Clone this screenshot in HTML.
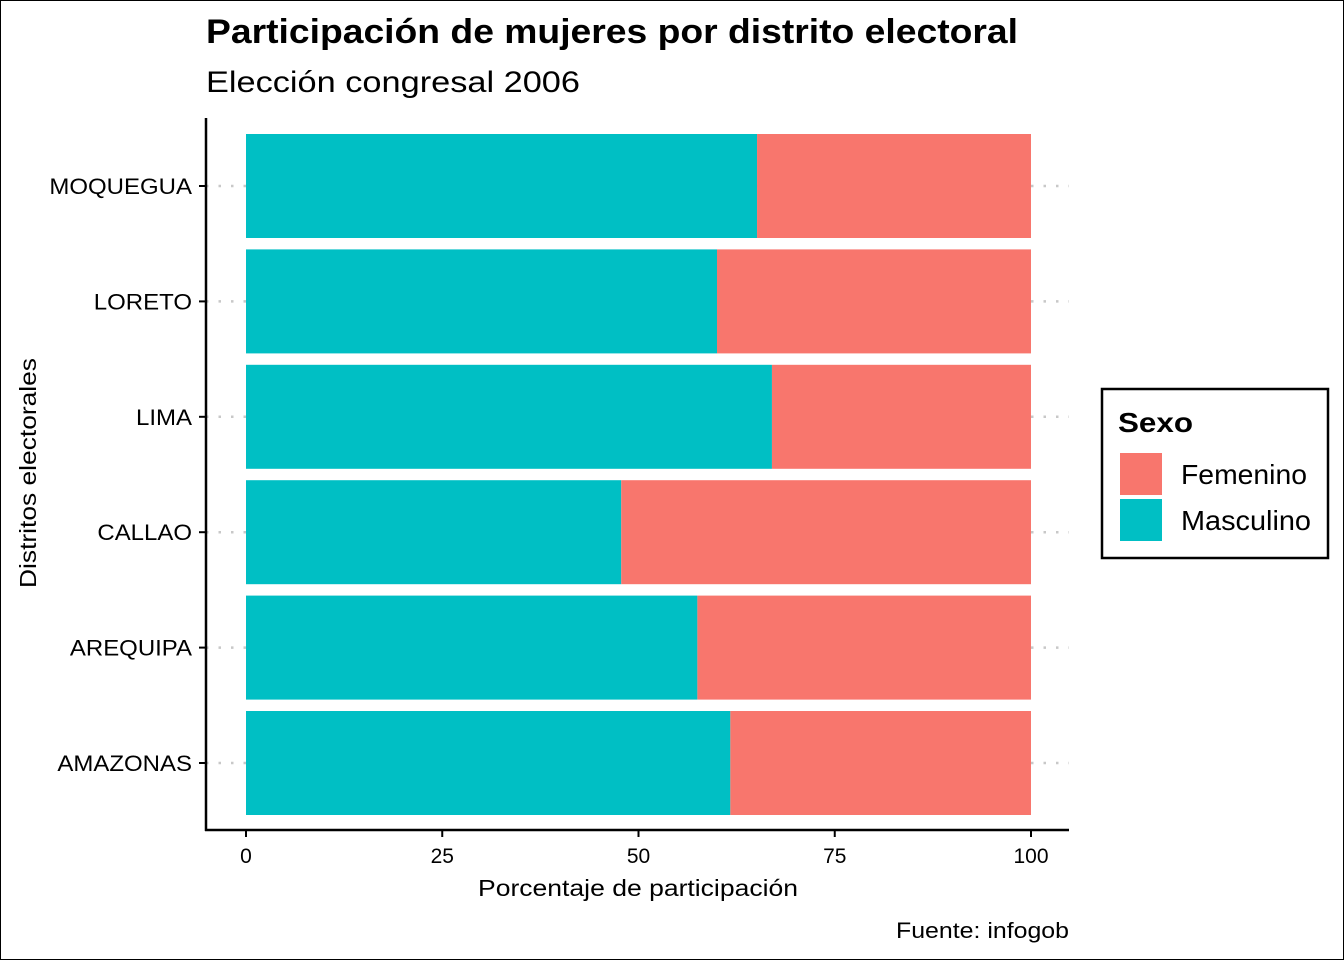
<!DOCTYPE html>
<html><head><meta charset="utf-8"><style>
body{margin:0;background:#fff}
svg{display:block;font-family:"Liberation Sans",sans-serif}
</style></head><body>
<svg width="1344" height="960" viewBox="0 0 1344 960">
<rect x="0.5" y="0.5" width="1343" height="959" fill="#fff" stroke="#000"/>
<text x="206" y="43" font-size="34" font-weight="bold" textLength="812" lengthAdjust="spacingAndGlyphs">Participación de mujeres por distrito electoral</text>
<text x="206" y="92" font-size="30" textLength="374" lengthAdjust="spacingAndGlyphs">Elección congresal 2006</text>
<g id="plot"></g>
<text x="478" y="896" font-size="23" textLength="320" lengthAdjust="spacingAndGlyphs">Porcentaje de participación</text>
<text transform="translate(36,588) rotate(-90)" font-size="23" textLength="230" lengthAdjust="spacingAndGlyphs">Distritos electorales</text>
<text x="896" y="938" font-size="22" textLength="173" lengthAdjust="spacingAndGlyphs">Fuente: infogob</text>
<g>
<rect x="1102" y="389" width="226" height="169" fill="#fff" stroke="#000" stroke-width="2.5"/>
<text x="1118" y="432" font-size="28" font-weight="bold" textLength="75" lengthAdjust="spacingAndGlyphs">Sexo</text>
<rect x="1120" y="453" width="42" height="42" fill="#F8766D"/>
<text x="1181" y="484" font-size="28" textLength="126" lengthAdjust="spacingAndGlyphs">Femenino</text>
<rect x="1120" y="499" width="42" height="42" fill="#00BFC4"/>
<text x="1181" y="530" font-size="28" textLength="130" lengthAdjust="spacingAndGlyphs">Masculino</text>
</g>
</svg>
<script>
const categories=["MOQUEGUA","LORETO","LIMA","CALLAO","AREQUIPA","AMAZONAS"];
const masculino=[65.1,60.0,67.0,47.8,57.5,61.7];
const femenino=[34.9,40.0,33.0,52.2,42.5,38.3];
const xTicks=[0,25,50,75,100];
const NS="http://www.w3.org/2000/svg";
const g=document.getElementById('plot');
const x=v=>246+v*7.85;
const band=115.4, y0=186;
const y=i=>y0+i*band;
function mk(t,a){const e=document.createElementNS(NS,t);for(const k in a)e.setAttribute(k,a[k]);g.appendChild(e);return e;}
categories.forEach((c,i)=>{
 const l=mk('line',{x1:206,x2:1069,y1:y(i),y2:y(i),stroke:'#c8c8c8','stroke-width':2.5,'stroke-dasharray':'2.5 10'});
 
 
 const h=104;
 const m=mk('rect',{x:x(0),y:y(i)-h/2,width:x(masculino[i])-x(0),height:h,fill:'#00BFC4'});
 
 
 const f=mk('rect',{x:x(masculino[i]),y:y(i)-h/2,width:x(masculino[i]+femenino[i])-x(masculino[i]),height:h,fill:'#F8766D'});
 
 
 const tk=mk('line',{x1:199,x2:206,y1:y(i),y2:y(i),stroke:'#000','stroke-width':2});
 
 
 const t=mk('text',{x:192,y:y(i)+8,'font-size':22,'text-anchor':'end'});
 t.textContent=c;
 
 
 const w=t.getComputedTextLength();
 if(w>0){t.setAttribute('textLength',(w*1.09).toFixed(1));t.setAttribute('lengthAdjust','spacingAndGlyphs');}
});
const ay=mk('line',{x1:206,x2:206,y1:118,y2:831,stroke:'#000','stroke-width':2.5});


const ax=mk('line',{x1:205,x2:1069,y1:830,y2:830,stroke:'#000','stroke-width':2.5});


xTicks.forEach(v=>{
 const tk=mk('line',{x1:x(v),x2:x(v),y1:830,y2:837,stroke:'#000','stroke-width':2});
 
 
 const t=mk('text',{x:x(v),y:863,'font-size':21,'text-anchor':'middle'});
 t.textContent=v;
 
 
});
</script>
</body></html>
